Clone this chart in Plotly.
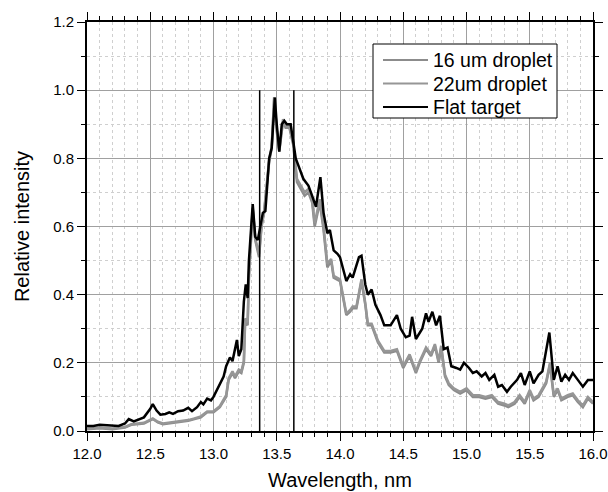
import plotly.graph_objects as go

# Flat target (black)
flat_x = [12.00, 12.05, 12.10, 12.15, 12.20, 12.25, 12.30, 12.33, 12.37, 12.42, 12.45, 12.50, 12.52,
          12.55, 12.58, 12.62, 12.65, 12.68, 12.72, 12.76, 12.80, 12.83, 12.87, 12.90, 12.92, 12.95,
          12.98, 13.00, 13.02, 13.05, 13.08, 13.10, 13.13, 13.15, 13.185, 13.20, 13.22, 13.24, 13.255,
          13.27, 13.28, 13.31, 13.33, 13.35, 13.37, 13.39, 13.41, 13.44, 13.46, 13.485, 13.50, 13.52,
          13.54, 13.56, 13.58, 13.61, 13.63, 13.65, 13.67, 13.69, 13.71, 13.73, 13.75, 13.77, 13.81,
          13.845, 13.87, 13.90, 13.92, 13.95, 13.98, 14.00, 14.03, 14.05, 14.08, 14.10, 14.15, 14.17,
          14.20, 14.22, 14.25, 14.28, 14.32, 14.35, 14.40, 14.45, 14.48, 14.52, 14.55, 14.57, 14.60,
          14.63, 14.65, 14.68, 14.70, 14.73, 14.76, 14.79, 14.82, 14.85, 14.88, 14.92, 14.95, 14.98,
          15.02, 15.05, 15.08, 15.12, 15.15, 15.18, 15.22, 15.25, 15.28, 15.32, 15.35, 15.40, 15.43,
          15.46, 15.50, 15.53, 15.57, 15.60, 15.63, 15.655, 15.69, 15.72, 15.75, 15.78, 15.81, 15.84,
          15.88, 15.92, 15.96, 16.00]
flat_y = [0.015, 0.015, 0.018, 0.017, 0.014, 0.015, 0.022, 0.035, 0.028, 0.035, 0.040, 0.065, 0.079,
          0.060, 0.048, 0.050, 0.055, 0.050, 0.058, 0.060, 0.068, 0.058, 0.070, 0.085, 0.078, 0.095,
          0.090, 0.100, 0.115, 0.140, 0.160, 0.190, 0.216, 0.205, 0.267, 0.220, 0.240, 0.380, 0.430,
          0.390, 0.500, 0.666, 0.570, 0.560, 0.600, 0.640, 0.645, 0.800, 0.830, 0.978, 0.900, 0.820,
          0.900, 0.910, 0.900, 0.900, 0.850, 0.800, 0.780, 0.760, 0.740, 0.730, 0.720, 0.700, 0.658,
          0.745, 0.640, 0.580, 0.590, 0.530, 0.520, 0.510, 0.470, 0.440, 0.460, 0.450, 0.510, 0.514,
          0.430, 0.400, 0.415, 0.370, 0.340, 0.310, 0.310, 0.340, 0.300, 0.275, 0.280, 0.335, 0.270,
          0.290, 0.300, 0.345, 0.320, 0.350, 0.310, 0.338, 0.240, 0.245, 0.190, 0.185, 0.180, 0.200,
          0.185, 0.170, 0.175, 0.160, 0.170, 0.150, 0.165, 0.130, 0.135, 0.115, 0.130, 0.150, 0.170,
          0.135, 0.175, 0.140, 0.165, 0.175, 0.240, 0.289, 0.150, 0.190, 0.145, 0.165, 0.150, 0.170,
          0.150, 0.130, 0.150, 0.150]

# Droplet targets (gray)
drop_x = [12.00, 12.10, 12.20, 12.30, 12.35, 12.45, 12.52, 12.56, 12.60, 12.70, 12.80, 12.85, 12.90,
          12.95, 13.00, 13.05, 13.10, 13.12, 13.15, 13.17, 13.20, 13.22, 13.24, 13.25, 13.27, 13.28,
          13.31, 13.33, 13.36, 13.38, 13.40, 13.44, 13.46, 13.48, 13.50, 13.52, 13.55, 13.57, 13.60,
          13.63, 13.66, 13.69, 13.72, 13.75, 13.78, 13.80, 13.84, 13.87, 13.90, 13.93, 13.95, 14.00,
          14.02, 14.05, 14.08, 14.10, 14.13, 14.17, 14.20, 14.22, 14.25, 14.30, 14.35, 14.40, 14.45,
          14.50, 14.55, 14.60, 14.63, 14.68, 14.72, 14.75, 14.78, 14.80, 14.83, 14.86, 14.90, 14.95,
          15.00, 15.05, 15.10, 15.15, 15.20, 15.25, 15.30, 15.33, 15.38, 15.42, 15.46, 15.50, 15.53,
          15.57, 15.60, 15.63, 15.66, 15.69, 15.72, 15.75, 15.80, 15.84, 15.88, 15.92, 15.96, 16.00]
drop16_y = [0.005, 0.008, 0.005, 0.010, 0.018, 0.022, 0.035, 0.025, 0.020, 0.025, 0.030, 0.035, 0.040,
            0.055, 0.055, 0.070, 0.100, 0.150, 0.170, 0.155, 0.175, 0.170, 0.200, 0.320, 0.310, 0.450,
            0.650, 0.560, 0.510, 0.600, 0.640, 0.790, 0.830, 0.980, 0.880, 0.820, 0.910, 0.890, 0.890,
            0.840, 0.730, 0.710, 0.690, 0.700, 0.670, 0.600, 0.670, 0.590, 0.480, 0.500, 0.450, 0.440,
            0.400, 0.340, 0.350, 0.360, 0.360, 0.440, 0.370, 0.310, 0.310, 0.260, 0.230, 0.230, 0.235,
            0.185, 0.220, 0.170, 0.200, 0.240, 0.220, 0.250, 0.200, 0.245, 0.160, 0.135, 0.120, 0.110,
            0.120, 0.100, 0.100, 0.095, 0.100, 0.080, 0.075, 0.070, 0.080, 0.100, 0.080, 0.115, 0.090,
            0.100, 0.120, 0.140, 0.195, 0.100, 0.120, 0.090, 0.100, 0.105, 0.085, 0.070, 0.095, 0.080]
drop22_y = [0.007, 0.010, 0.007, 0.012, 0.020, 0.024, 0.037, 0.027, 0.022, 0.027, 0.032, 0.037, 0.043,
            0.057, 0.058, 0.073, 0.105, 0.155, 0.175, 0.160, 0.180, 0.175, 0.205, 0.330, 0.320, 0.460,
            0.655, 0.565, 0.520, 0.605, 0.645, 0.795, 0.835, 0.980, 0.885, 0.825, 0.915, 0.895, 0.895,
            0.845, 0.740, 0.720, 0.700, 0.710, 0.680, 0.610, 0.680, 0.600, 0.490, 0.505, 0.455, 0.445,
            0.405, 0.345, 0.355, 0.365, 0.365, 0.445, 0.375, 0.315, 0.315, 0.265, 0.235, 0.235, 0.240,
            0.190, 0.225, 0.175, 0.205, 0.245, 0.225, 0.255, 0.205, 0.250, 0.165, 0.140, 0.125, 0.115,
            0.125, 0.105, 0.105, 0.100, 0.105, 0.085, 0.080, 0.075, 0.085, 0.105, 0.085, 0.120, 0.095,
            0.105, 0.125, 0.145, 0.200, 0.105, 0.125, 0.095, 0.105, 0.110, 0.090, 0.075, 0.100, 0.085]

# Bandwidth marker lines
band_edges = [13.365, 13.635]
band_height = [0.0, 1.0]

series_names = ["16 um droplet", "22um droplet", "Flat target"]
series_colors = ["#8c8c8c", "#969696", "#000000"]

font = "Liberation Sans, Arial, sans-serif"

W, H = 608, 492
ML, MR, MT, MB = 87, 15, 22, 61
PW, PH = W - ML - MR, H - MT - MB


def px(xp):
    return (xp - ML) / PW


def py(yp):
    return (H - MB - yp) / PH


fig = go.Figure()
series = [(drop_x, drop16_y), (drop_x, drop22_y), (flat_x, flat_y)]
for (xs, ys), name, col in zip(series, series_names, series_colors):
    fig.add_trace(go.Scatter(x=xs, y=ys, mode="lines", name=name, showlegend=False,
                             line=dict(color=col, width=2.5)))
for xe in band_edges:
    fig.add_trace(go.Scatter(x=[xe, xe], y=band_height, mode="lines", showlegend=False,
                             line=dict(color="#000000", width=1.5), hoverinfo="skip"))

axis_common = dict(
    showline=True, linecolor="black", linewidth=2, mirror="allticks",
    ticks="outside", ticklen=8, tickwidth=1.3, tickcolor="black",
    showgrid=True, gridcolor="#a0a0a0", gridwidth=1,
    zeroline=False, automargin=False,
    tickfont=dict(family=font, size=15, color="black"),
)

fig.update_xaxes(
    range=[12.0, 16.0], dtick=0.5, tick0=12.0, tickformat=".1f",
    minor=dict(dtick=0.1, ticks="outside", ticklen=4, tickcolor="black",
               showgrid=True, gridcolor="#cfcfcf", griddash="dot", gridwidth=1),
    title=dict(text="Wavelength, nm", font=dict(family=font, size=20, color="black"), standoff=12),
    **axis_common)
fig.update_yaxes(
    range=[0.0, 1.2], dtick=0.2, tick0=0, tickformat=".1f",
    minor=dict(dtick=0.1, ticks="outside", ticklen=4, tickcolor="black",
               showgrid=True, gridcolor="#cfcfcf", griddash="dot", gridwidth=1),
    title=dict(text="Relative intensity", font=dict(family=font, size=20, color="black"), standoff=18),
    **axis_common)

# Legend drawn as a boxed key (box, line samples and real text labels)
shapes = [dict(type="rect", xref="paper", yref="paper",
               x0=px(373), x1=px(557), y0=py(118), y1=py(44),
               line=dict(color="black", width=1), fillcolor="white", layer="above")]
annotations = []
row_y = [60, 83.5, 107]
for name, col, ry in zip(series_names, series_colors, row_y):
    shapes.append(dict(type="line", xref="paper", yref="paper",
                       x0=px(383), x1=px(428), y0=py(ry), y1=py(ry),
                       line=dict(color=col, width=2), layer="above"))
    annotations.append(dict(text=name, xref="paper", yref="paper", x=px(431), y=py(ry),
                            xanchor="left", yanchor="middle", showarrow=False,
                            font=dict(family=font, size=19.5, color="black")))

fig.update_layout(
    width=W, height=H,
    margin=dict(l=ML, r=MR, t=MT, b=MB),
    paper_bgcolor="white", plot_bgcolor="white",
    font=dict(family=font, size=15, color="black"),
    showlegend=False,
    shapes=shapes, annotations=annotations,
)

fig.write_html("out.html")
